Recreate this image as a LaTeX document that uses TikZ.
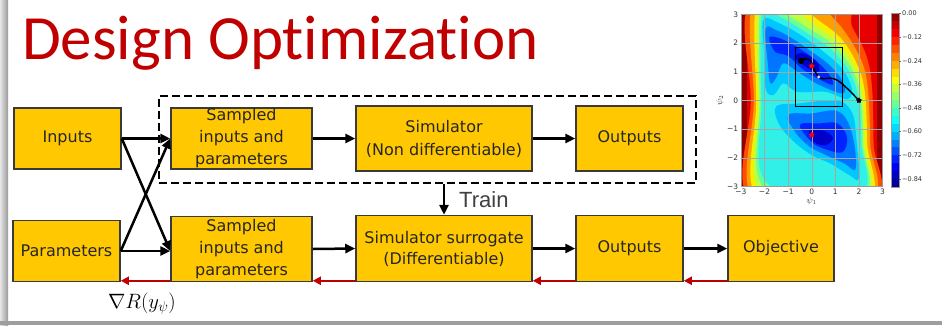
\documentclass[tikz,border=0pt]{standalone}
\usepackage{fontspec}
\newfontfamily\carlito[Ligatures=NoCommon]{Carlito}
\newfontfamily\dejavu{DejaVu Sans}
\newfontfamily\libsans{Liberation Sans}
\usetikzlibrary{arrows.meta,shapes.geometric,calc}
\definecolor{titlered}{HTML}{C00000}
\definecolor{boxfill}{HTML}{FFC800}
\definecolor{boxline}{HTML}{3A3A3A}
\definecolor{gradred}{HTML}{C00000}
\definecolor{j0}{HTML}{900000}
\definecolor{j1}{HTML}{E80000}
\definecolor{j2}{HTML}{FF4D00}
\definecolor{j3}{HTML}{FF9E00}
\definecolor{j4}{HTML}{F5F000}
\definecolor{j5}{HTML}{BDFF42}
\definecolor{j6}{HTML}{6BFF94}
\definecolor{j7}{HTML}{30F0E8}
\definecolor{j8}{HTML}{00C7FF}
\definecolor{j9}{HTML}{0075FF}
\definecolor{j10}{HTML}{0024FF}
\definecolor{j11}{HTML}{0000C8}
\tikzset{
  blk/.style={draw=boxline, line width=1.5pt, fill=boxfill, inner sep=0pt, align=center,
    font=\dejavu\fontsize{16}{22}\selectfont, text=black!85},
  arr/.style={line width=2.5pt, -{Triangle[length=10pt,width=9pt]}},
  back/.style={draw=gradred, line width=2pt, -{Triangle[length=8pt,width=8pt]}},
  grp/.style={draw=black, line width=2.5pt, dash pattern=on 8pt off 4pt, inner sep=0pt},
  tick/.style={font=\dejavu\fontsize{7.5}{8}\selectfont, text=black!80, inner sep=1pt},
  cbl/.style={font=\dejavu\fontsize{6.5}{7}\selectfont, text=black!80, inner sep=0.5pt, anchor=west},
  contour/.style={smooth cycle, tension=0.6}
}
\begin{document}
\begin{tikzpicture}[x=1pt,y=-1pt]
\useasboundingbox (0,0) rectangle (942,325);
\fill[white] (0,0) rectangle (942,325);
\shade[left color=black!10, right color=black!40] (0,0) rectangle (8,325);
\fill[black!38] (0,321) rectangle (942,325);

% title
\node[anchor=base west, inner sep=0pt, text=titlered, font=\carlito\fontsize{63}{63}\selectfont] (title) at (22,59) {Design Optimization};

% dashed group
\node[grp, minimum width=537pt, minimum height=87pt] (grp) at (427.5,139.5) {};

% boxes
\node[blk, minimum width=107pt, minimum height=61pt] (in) at (67.5,138.5) {Inputs};
\node[blk, minimum width=141pt, minimum height=61pt] (samp1) at (241.5,138.5) {Sampled\\inputs and\\parameters};
\node[blk, minimum width=176pt, minimum height=65pt, font=\dejavu\fontsize{16}{23}\selectfont] (sim) at (444,138.5) {Simulator\\(Non differentiable)};
\node[blk, minimum width=107pt, minimum height=65pt] (out1) at (629.5,138.5) {Outputs};

\node[blk, minimum width=107pt, minimum height=61pt] (par) at (66.5,251) {Parameters};
\node[blk, minimum width=141pt, minimum height=65pt] (samp2) at (241.5,249) {Sampled\\inputs and\\parameters};
\node[blk, minimum width=176pt, minimum height=66pt, font=\dejavu\fontsize{16}{21}\selectfont] (sur) at (444,248.5) {Simulator surrogate\\(Differentiable)};
\node[blk, minimum width=107pt, minimum height=66pt] (out2) at (629.5,248.5) {Outputs};
\node[blk, minimum width=106pt, minimum height=66pt] (obj) at (781,248.5) {Objective};

% forward arrows
\coordinate (s2in) at (samp2.west |- par.east);
\draw[arr] (in.east) -- (samp1.west);
\draw[arr] (in.east) -- (s2in);
\draw[arr] (par.east) -- (samp1.west);
\draw[arr] (par.east) -- (s2in);
\draw[arr] (samp1.east) -- (sim.west);
\draw[arr] (sim.east) -- (out1.west);
\draw[arr] (grp.south -| sur.north) -- (sur.north);
\draw[arr] (samp2.east) -- (sur.west);
\draw[arr] (sur.east) -- (out2.west);
\draw[arr] (out2.east) -- (obj.west);

% backward (gradient) arrows
\draw[back] ([yshift=1.5pt]obj.south west) -- ([yshift=1.5pt]out2.south east);
\draw[back] ([yshift=1.5pt]out2.south west) -- ([yshift=1.5pt]sur.south east);
\draw[back] ([yshift=1.5pt]sur.south west) -- ([yshift=1.5pt]samp2.south east);
\draw[back] ([yshift=1.5pt]samp2.south west) -- ([yshift=1.5pt]par.south east);

\node[anchor=base west, inner sep=0pt, text=black!75, font=\libsans\fontsize{22}{22}\selectfont] (train) at (459,207.5) {Train};
\node[anchor=base, inner sep=0pt, font=\fontsize{21}{21}\selectfont] (grad) at (142,308) {$\nabla R(y_\psi)$};

% ---------- contour plot ----------
\begin{scope}[shift={(811.7,100.5)}, x=23.6pt, y=28.7pt]
  \begin{scope}
    \clip (-3,-3) rectangle (3,3);
    \fill[j0] (-3,-3) rectangle (3,3);
    \fill[j1] (-2.75,-3.5) rectangle (2.78,3.5);
    \fill[j2] plot[contour] coordinates {(-2.55,3.5) (-2.58,0) (-2.55,-3.5) (2.6,-3.5) (2.62,-1.5) (2.55,0.5) (2.3,1.6) (1.7,2.6) (1.3,3.5)};
    \fill[j3] plot[contour] coordinates {(-2.42,3.5) (-2.45,0) (-2.38,-3.5) (2.45,-3.5) (2.48,-1.5) (2.38,0.4) (2.1,1.4) (1.4,2.4) (0.6,3.15) (0.2,3.5)};
    \fill[j4] plot[contour] coordinates {(-2.3,3.5) (-2.35,0) (-2.22,-3.5) (2.33,-3.5) (2.35,-1.5) (2.25,0.3) (1.9,1.3) (1.2,2.2) (0.2,2.85) (-0.8,3.5)};
    \fill[j5] plot[contour] coordinates {(-2.22,3.5) (-2.27,0) (-2.08,-3.3) (2.23,-3.4) (2.25,-1.5) (2.15,0.2) (1.8,1.2) (1.0,2.1) (0,2.7) (-1.2,3.5)};
    \fill[j6] plot[contour] coordinates {(-2.15,3.4) (-2.2,0) (-1.97,-3.1) (2.15,-3.3) (2.17,-1.5) (2.08,0.1) (1.7,1.1) (0.9,1.95) (-0.2,2.55) (-1.3,3.1)};
    \fill[j7] plot[contour] coordinates {(-2.08,3.1) (-2.13,0) (-1.87,-2.9) (2.07,-3.2) (2.1,-1.5) (2.0,0) (1.6,1.0) (0.8,1.8) (-0.3,2.4) (-1.3,2.9)};
    % upper basin
    \fill[j8] plot[contour] coordinates {(-2.05,2.8) (-2.0,1.5) (-1.95,0.4) (-1.6,0.2) (-1.2,0.6) (-0.6,0.3) (0.6,0.3) (1.5,0.05) (1.7,0.4) (1.3,1.1) (0.5,1.7) (-0.5,2.3) (-1.4,2.7)};
    \fill[j9] plot[contour] coordinates {(-1.95,2.5) (-1.85,1.2) (-1.75,0.6) (-1.5,0.8) (-1.2,1.3) (-0.6,1.0) (0.3,0.55) (1.3,0.25) (1.35,0.6) (0.8,1.2) (0,1.7) (-0.9,2.2) (-1.5,2.45)};
    \fill[j10] plot[contour] coordinates {(-1.8,2.2) (-1.55,1.7) (-1.0,1.55) (-0.4,1.1) (0.3,0.75) (0.9,0.55) (0.7,0.95) (0.1,1.45) (-0.6,1.85) (-1.3,2.15)};
    \fill[j11] plot[contour] coordinates {(-0.7,1.5) (-0.2,1.15) (0.25,1.0) (0.3,1.25) (-0.1,1.55) (-0.5,1.65)};
    % lower basin
    \fill[j8] plot[contour] coordinates {(-1.5,-0.2) (-0.5,-0.1) (0.6,0.0) (1.3,-0.05) (1.75,-0.5) (1.9,-1.4) (2.0,-2.7) (1.6,-2.6) (0.8,-2.2) (0,-1.9) (-0.8,-1.4) (-1.4,-0.8)};
    \fill[j9] plot[contour] coordinates {(-1.0,-0.5) (0,-0.45) (1.0,-0.35) (1.5,-0.7) (1.8,-1.5) (1.85,-2.4) (1.4,-2.2) (0.6,-1.9) (-0.1,-1.6) (-0.7,-1.1)};
    \fill[j10] plot[contour] coordinates {(-0.5,-0.85) (0.3,-0.8) (1.1,-0.8) (1.5,-1.3) (1.3,-1.8) (0.6,-1.7) (0,-1.45)};
    \fill[j11] plot[contour] coordinates {(-0.1,-1.05) (0.5,-1.05) (0.9,-1.3) (0.6,-1.55) (0.1,-1.45)};
  \end{scope}
  % grid
  \foreach \v in {-2,...,2} {
    \draw[black!35, line width=0.4pt] (\v,-3) -- (\v,3);
    \draw[black!35, line width=0.4pt] (-3,\v) -- (3,\v);
  }
  \draw[black!40, line width=0.4pt] (-3,-3) rectangle (3,3);
  % tick labels
  \foreach \v/\t in {-3/−3,-2/−2,-1/−1,0/0,1/1,2/2,3/3} {
    \node[tick, anchor=north] (xt\v) at ([yshift=-1.5pt]\v,-3) {\t};
    \node[tick, anchor=east] (yt\v) at ([xshift=-1.5pt]-3,\v) {\t};
  }
  \node[anchor=north, inner sep=0pt, font=\fontsize{9}{9}\selectfont, text=black!80] (xlab) at ([yshift=-10pt]0,-3) {$\psi_1$};
  \node[rotate=90, inner sep=0pt, font=\fontsize{9}{9}\selectfont, text=black!80] (ylab) at ([xshift=-21pt]-3,0) {$\psi_2$};
  % zoom window and optimisation path
  \draw[black, line width=1pt] (-0.7,-0.2) rectangle (1.3,1.85);
  \draw[black, line width=1.4pt, line cap=round] plot[smooth, tension=0.6] coordinates {(2,0) (1.75,0.22) (1.4,0.5) (1.1,0.7) (0.8,0.78) (0.5,0.76) (0.3,0.82) (0.15,1.0) (0.05,1.2) (-0.05,1.38) (-0.25,1.45) (-0.45,1.4)};
  \fill[black] (-0.45,1.38) circle (3.2pt);
  \fill[pink!70!white] (0.3,0.82) circle (1.6pt);
  \node[star, star points=5, fill=red, inner sep=0pt, minimum size=6pt] (st1) at (0,1.2) {};
  \node[star, star points=5, fill=red, inner sep=0pt, minimum size=6pt] (st2) at (0,-1.2) {};
  \node[star, star points=5, fill=black, inner sep=0pt, minimum size=6pt] (st3) at (2,0) {};
\end{scope}

% colour bar
\foreach \i in {0,...,21} {
  \pgfmathsetmacro\tt{1-(\i+0.5)/22}
  \pgfmathsetmacro\rr{max(0,min(1,1.5-abs(4*\tt-3)))}
  \pgfmathsetmacro\gg{max(0,min(1,1.5-abs(4*\tt-2)))}
  \pgfmathsetmacro\bb{max(0,min(1,1.5-abs(4*\tt-1)))}
  \definecolor{cbcol}{rgb}{\rr,\gg,\bb}
  \fill[cbcol] (891,{13.5+\i*7.875}) rectangle (899,{13.5+(\i+1)*7.875+0.3});
}
\draw[black!40, line width=0.4pt] (891,13.5) rectangle (899,186.75);
\foreach \k/\t in {0/0.00,1/−0.12,2/−0.24,3/−0.36,4/−0.48,5/−0.60,6/−0.72,7/−0.84} {
  \draw[black!60, line width=0.4pt] (899,{13.5+\k*23.625}) -- (901,{13.5+\k*23.625});
  \node[cbl] (cb\k) at (901.5,{13.5+\k*23.625}) {\t};
}
\end{tikzpicture}
\end{document}
